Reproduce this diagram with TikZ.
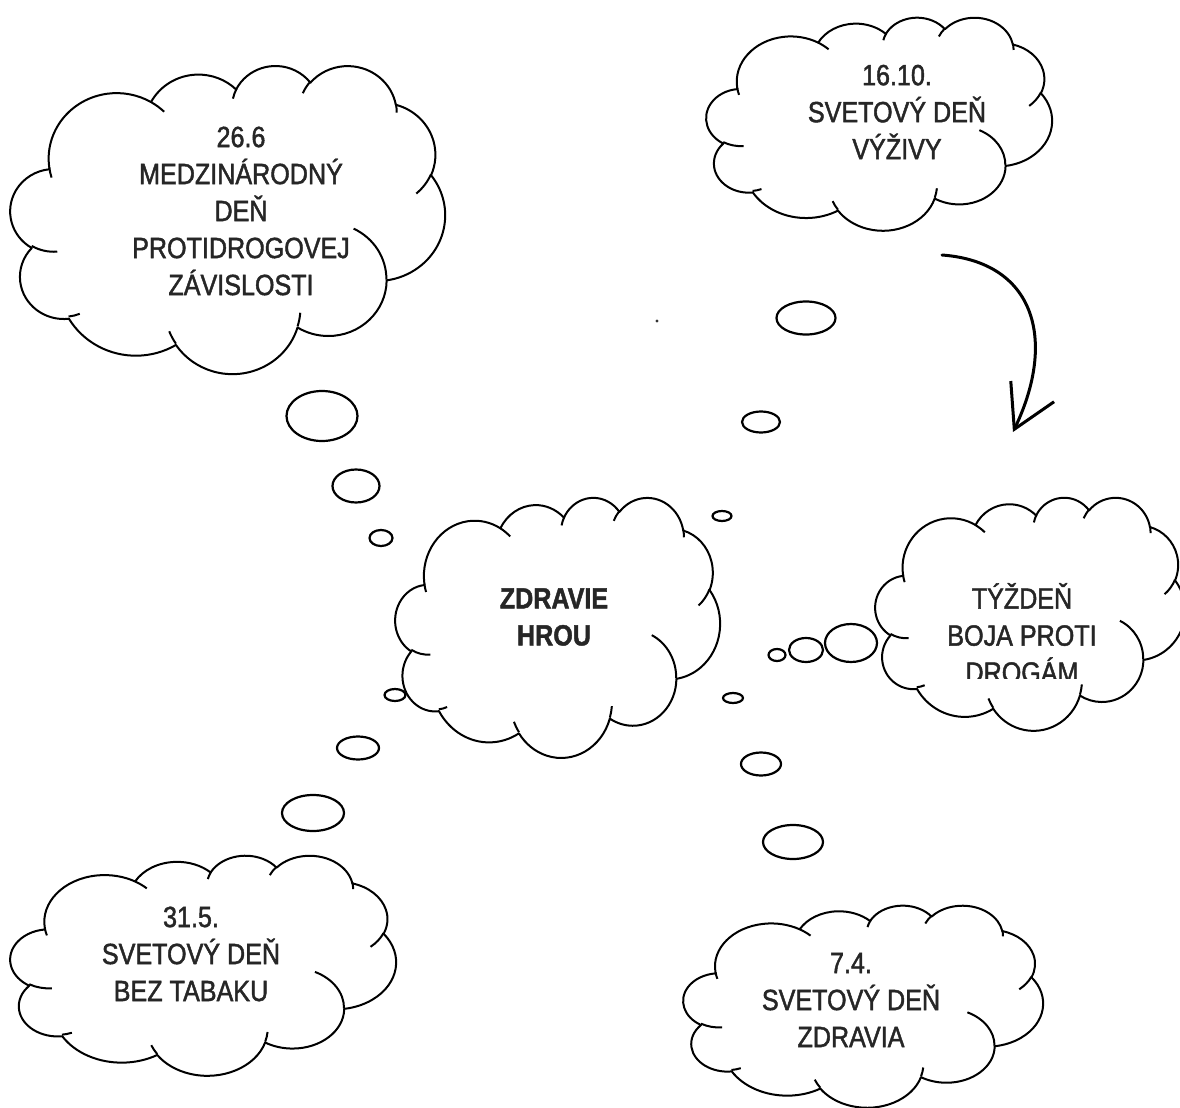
\documentclass[tikz,border=0pt]{standalone}
\usepackage{fontspec}
\setmainfont{Liberation Sans}[FakeStretch=0.86,FakeBold=1.5]
\usetikzlibrary{shapes.geometric,arrows.meta}

\tikzset{
  cloudline/.style={line width=1pt,line join=round},
  bubble/.style={ellipse,draw,line width=1.1pt,inner sep=0pt},
  cloudtext/.style={align=center,text=black!85,font=\fontsize{14.6}{18.5}\selectfont},
  handarrow/.style={line width=1.5pt,line cap=round,line join=round,-{Straight Barb[length=21pt,width=24pt]}}
}

% left, top, width, height (px)
\newcommand\wordcloud[4]{%
  \begin{scope}[shift={(#1,#2)},xscale=#3/432,yscale=#4/432]
    \draw[cloudline,fill=white] (39.00,143.70)
      arc[start angle=172.25,delta angle=128.11,x radius=67.53,y radius=91.90]
      arc[start angle=-152.03,delta angle=106.60,x radius=53.33,y radius=72.67]
      arc[start angle=-153.48,delta angle=116.15,x radius=43.65,y radius=59.45]
      arc[start angle=-139.69,delta angle=129.48,x radius=48.57,y radius=65.95]
      arc[start angle=-74.77,delta angle=97.98,x radius=53.33,y radius=72.73]
      arc[start angle=-37.54,delta angle=119.40,x radius=67.75,y radius=92.20]
      arc[start angle=0.46,delta angle=121.52,x radius=57.85,y radius=78.67]
      arc[start angle=16.84,delta angle=129.41,x radius=67.52,y radius=92.15]
      arc[start angle=58.98,delta angle=90.48,x radius=77.20,y radius=105.43]
      arc[start angle=83.31,delta angle=139.83,x radius=43.60,y radius=59.18]
      arc[start angle=120.36,delta angle=143.75,x radius=43.45,y radius=59.45]
      -- cycle;
    \draw[cloudline]
      (46.93,261.77) arc[start angle=85.55,delta angle=34.81,x radius=43.45,y radius=59.45]
      (69.28,348.99) arc[start angle=68.23,delta angle=15.08,x radius=43.60,y radius=59.18]
      (164.78,390.90) arc[start angle=146.25,delta angle=12.23,x radius=67.52,y radius=92.15]
      (288.27,347.51) arc[start angle=4.74,delta angle=12.10,x radius=67.52,y radius=92.15]
      (341.29,229.54) arc[start angle=-64.03,delta angle=64.49,x radius=57.85,y radius=78.67]
      (417.98,153.54) arc[start angle=23.21,delta angle=26.44,x radius=53.33,y radius=72.73]
      (383.24,54.26) arc[start angle=-10.21,delta angle=11.03,x radius=48.57,y radius=65.95]
      (290.78,39.52) arc[start angle=-156.28,delta angle=16.59,x radius=48.57,y radius=65.95]
      (221.41,47.20) arc[start angle=-167.73,delta angle=14.25,x radius=43.65,y radius=59.45]
      (140.05,52.03) arc[start angle=-59.64,delta angle=13.93,x radius=67.53,y radius=91.90]
      (41.27,157.89) arc[start angle=163.19,delta angle=9.06,x radius=67.53,y radius=91.90];
  \end{scope}}

\begin{document}
\begin{tikzpicture}[x=0.5pt,y=-0.5pt]
    \useasboundingbox (0,0) rectangle (1180,1108);

    \wordcloud{10}{65}{435}{308}
    \wordcloud{706}{17}{346}{213}
    \wordcloud{395}{497}{325}{260}
    \wordcloud{875}{497}{310}{233}
    \wordcloud{10}{855}{386}{220}
    \wordcloud{683}{905}{360}{202}

    \node[cloudtext] (drugday) at (241,211) {26.6\\MEDZINÁRODNÝ\\DEŇ\\PROTIDROGOVEJ\\ZÁVISLOSTI};
    \node[cloudtext] (nutrition) at (897,112) {16.10.\\SVETOVÝ DEŇ\\VÝŽIVY};
    \node[cloudtext,font=\fontsize{14.6}{18.5}\selectfont\bfseries] (health) at (554,617) {ZDRAVIE\\HROU};
    \begin{scope}
        \clip (860,480) rectangle (1180,678);
        \node[cloudtext] (drugweek) at (1022,633) {TÝŽDEŇ\\BOJA PROTI\\DROGÁM};
    \end{scope}
    \node[cloudtext] (tobacco) at (191,954) {31.5.\\SVETOVÝ DEŇ\\BEZ TABAKU};
    \node[cloudtext] (healthday) at (851,1000) {7.4.\\SVETOVÝ DEŇ\\ZDRAVIA};

    \node[bubble,minimum width=35.5pt,minimum height=25pt] (b11) at (322,416) {};
    \node[bubble,minimum width=23.5pt,minimum height=16.5pt] (b12) at (356,486) {};
    \node[bubble,minimum width=11.5pt,minimum height=8pt] (b13) at (381,538) {};
    \node[bubble,minimum width=29.5pt,minimum height=16.5pt] (b21) at (806,318) {};
    \node[bubble,minimum width=19pt,minimum height=10.5pt] (b22) at (761,422) {};
    \node[bubble,minimum width=9.5pt,minimum height=5pt] (b23) at (722,516) {};
    \node[bubble,minimum width=26pt,minimum height=19pt] (b41) at (851,643) {};
    \node[bubble,minimum width=17pt,minimum height=12pt] (b42) at (806,650) {};
    \node[bubble,minimum width=8.5pt,minimum height=6pt] (b43) at (777,655) {};
    \node[bubble,minimum width=31pt,minimum height=18pt] (b51) at (313,813) {};
    \node[bubble,minimum width=21pt,minimum height=11.5pt] (b52) at (358,748) {};
    \node[bubble,minimum width=10.5pt,minimum height=6pt] (b53) at (395,695) {};
    \node[bubble,minimum width=30pt,minimum height=17pt] (b61) at (793,842) {};
    \node[bubble,minimum width=20pt,minimum height=11.5pt] (b62) at (761,764) {};
    \node[bubble,minimum width=10pt,minimum height=5pt] (b63) at (733,698) {};

    \node[circle,fill=black!80,inner sep=0pt,minimum size=1.7pt] (dot) at (657,321) {};

    \coordinate (arrowstart) at (942,255);
    \coordinate (arrowtip) at (1013,432);
    \draw[handarrow] (arrowstart) .. controls (1035,262) and (1057,340) .. (arrowtip);
\end{tikzpicture}
\end{document}
